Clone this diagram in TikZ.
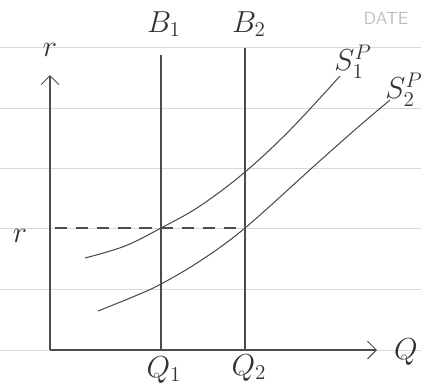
\documentclass[tikz,border=0pt]{standalone}
\usetikzlibrary{arrows.meta}
\begin{document}
\begin{tikzpicture}[x=0.02cm,y=-0.02cm,
  pencil/.style={draw=black!70,line width=0.6pt},
  ruled/.style={draw=black!15,line width=0.4pt},
  lbl/.style={text=black!80,font=\LARGE}]
\useasboundingbox (0,0) rectangle (421,389);
% paper lines
\foreach \ly in {47,108,168,228,289,350}
  \draw[ruled] (0,\ly) -- (421,\ly);
\node[text=black!25,font=\sffamily] (date) at (386,18) {DATE};

% axes
\coordinate (origin) at (50,350);
\coordinate (rtop) at (50,75);
\coordinate (qend) at (377,350);
\draw[pencil,-{Straight Barb[length=5pt,width=10pt]}] (origin) -- (rtop);
\draw[pencil,-{Straight Barb[length=5pt,width=10pt]}] (origin) -- (qend);
\node[lbl] (rlabel) at (50,50) {$r$};
\node[lbl] (qlabel) at (406,352) {$Q$};

% vertical lines
\coordinate (b1top) at (161,55);
\coordinate (b2top) at (245,48);
\coordinate (q1) at (161,350);
\coordinate (q2) at (245,350);
\draw[pencil] (b1top) -- (q1);
\draw[pencil] (b2top) -- (q2);
\node[lbl] (b1) at (164,24) {$B_1$};
\node[lbl] (b2) at (249,24) {$B_2$};
\node[lbl] (q1label) at (164,370) {$Q_1$};
\node[lbl] (q2label) at (249,368) {$Q_2$};

% rate level
\node[lbl] (rlevel) at (20,236) {$r$};
\coordinate (rstart) at (55,228);
\coordinate (rend) at (245,228);
\draw[pencil,dash pattern=on 7pt off 5pt] (rstart) -- (rend);

% supply curves
\draw[pencil] plot[smooth,tension=0.6] coordinates
  {(85,258) (125,246) (161,228) (200,206) (245,172) (290,130) (340,76)};
\node[lbl] (s1) at (353,62) {$S_1^P$};
\draw[pencil] plot[smooth,tension=0.6] coordinates
  {(98,311) (135,296) (161,284) (200,261) (245,228) (313,167) (357,128) (390,100)};
\node[lbl] (s2) at (404,90) {$S_2^P$};
\end{tikzpicture}
\end{document}
